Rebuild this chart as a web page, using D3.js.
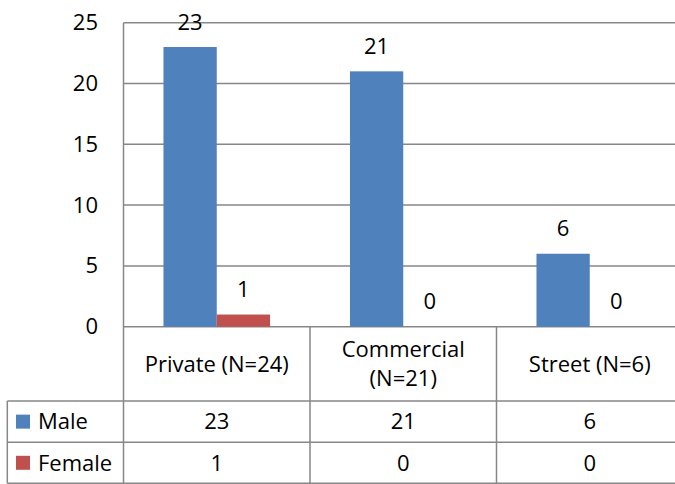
<!DOCTYPE html>
<html>
<head>
<meta charset="utf-8">
<script src="https://cdn.jsdelivr.net/npm/d3@7"></script>
<style>
  body { margin: 0; background: #fff; }
  svg text { font-family: "Open Sans", sans-serif; fill: #000; }
</style>
</head>
<body>
<div id="chart-area"></div>
<script>
const categories = ["Private (N=24)", "Commercial (N=21)", "Street (N=6)"];
const categoryLines = [["Private (N=24)"], ["Commercial", "(N=21)"], ["Street (N=6)"]];
const series = ["Male", "Female"];
const male = [23, 21, 6];
const female = [1, 0, 0];
const yTicks = [0, 5, 10, 15, 20, 25];
const colors = { Male: "#4F81BD", Female: "#C0504D" };

const W = 675, H = 484;
const plotLeft = 123.5, plotRight = 683, plotTop = 22.7, plotBottom = 326.7;
const tableLeft = 7.3, rowTop = [401, 442.3], tableBottom = 483.3;
const gridColor = "#878787";
const fs = 22;

const svg = d3.select("#chart-area")
    .append("svg")
    .attr("width", W)
    .attr("height", H);

const x0 = d3.scaleBand()
    .domain(categories)
    .range([plotLeft, plotRight])
    .padding(0);
const x1 = d3.scaleBand()
    .domain(series)
    .range([0, x0.bandwidth()])
    .paddingInner(0)
    .paddingOuter(0.75);
const y = d3.scaleLinear()
    .domain([0, 25])
    .range([plotBottom, plotTop]);

// gridlines
svg.append("g")
    .selectAll("line")
    .data(yTicks)
    .enter()
    .append("line")
    .attr("x1", plotLeft)
    .attr("x2", plotRight)
    .attr("y1", d => y(d))
    .attr("y2", d => y(d))
    .attr("stroke", gridColor)
    .attr("stroke-width", 1.5);

// y axis labels
const yAxisCall = d3.axisLeft(y)
    .tickValues(yTicks)
    .tickSize(0)
    .tickPadding(plotLeft - 98);
const yAxis = svg.append("g")
    .attr("transform", "translate(" + plotLeft + ",0)")
    .call(yAxisCall);
yAxis.select(".domain").remove();
yAxis.selectAll("text")
    .attr("font-size", fs + "px")
    .attr("font-family", "'Open Sans', sans-serif")
    .attr("fill", "#000");

// bars
const rows = categories.map((c, i) => ({ cat: c, values: [
    { key: "Male", value: male[i] },
    { key: "Female", value: female[i] }
] }));

const groups = svg.append("g")
    .selectAll("g")
    .data(rows)
    .enter()
    .append("g")
    .attr("transform", d => "translate(" + x0(d.cat) + ",0)");

groups.selectAll("rect")
    .data(d => d.values)
    .enter()
    .append("rect")
    .attr("x", d => x1(d.key))
    .attr("y", d => y(d.value))
    .attr("width", x1.bandwidth())
    .attr("height", d => y(0) - y(d.value))
    .attr("fill", d => colors[d.key]);

groups.selectAll("text")
    .data(d => d.values)
    .enter()
    .append("text")
    .attr("x", d => x1(d.key) + x1.bandwidth() / 2)
    .attr("y", d => y(d.value) - 25)
    .attr("dy", "0.35em")
    .attr("text-anchor", "middle")
    .attr("font-size", fs + "px")
    .text(d => d.value);

// table lines
const lines = svg.append("g")
    .attr("stroke", gridColor)
    .attr("stroke-width", 1.5);
// left axis line
lines.append("line")
    .attr("x1", plotLeft).attr("x2", plotLeft)
    .attr("y1", plotTop).attr("y2", tableBottom);
// table rows
rowTop.concat([tableBottom]).forEach(yy => {
    lines.append("line")
        .attr("x1", tableLeft).attr("x2", plotRight)
        .attr("y1", yy).attr("y2", yy);
});
lines.append("line")
    .attr("x1", tableLeft).attr("x2", tableLeft)
    .attr("y1", rowTop[0]).attr("y2", tableBottom);
// category separators
categories.forEach(c => {
    lines.append("line")
        .attr("x1", x0(c) + x0.bandwidth()).attr("x2", x0(c) + x0.bandwidth())
        .attr("y1", plotBottom).attr("y2", tableBottom);
});

// category labels
const catMid = (plotBottom + rowTop[0]) / 2;
categories.forEach((c, i) => {
    const ls = categoryLines[i];
    const lh = 29;
    ls.forEach((t, j) => {
        svg.append("text")
            .attr("x", x0(c) + x0.bandwidth() / 2)
            .attr("y", catMid + (j - (ls.length - 1) / 2) * lh)
            .attr("dy", "0.35em")
            .attr("text-anchor", "middle")
            .attr("font-size", fs + "px")
            .text(t);
    });
});

// data table rows
const tableData = [male, female];
series.forEach((s, r) => {
    const top = rowTop[r];
    const bottom = r === 0 ? rowTop[1] : tableBottom;
    const mid = (top + bottom) / 2;
    svg.append("rect")
        .attr("x", 16)
        .attr("y", mid - 7)
        .attr("width", 14)
        .attr("height", 14)
        .attr("fill", colors[s]);
    svg.append("text")
        .attr("x", 38)
        .attr("y", mid)
        .attr("dy", "0.35em")
        .attr("font-size", fs + "px")
        .text(s);
    categories.forEach((c, i) => {
        svg.append("text")
            .attr("x", x0(c) + x0.bandwidth() / 2)
            .attr("y", mid)
            .attr("dy", "0.35em")
            .attr("text-anchor", "middle")
            .attr("font-size", fs + "px")
            .text(tableData[r][i]);
    });
});
</script>
</body>
</html>
